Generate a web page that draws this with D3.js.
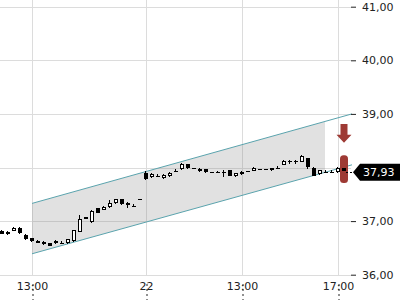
<!DOCTYPE html>
<html>
<head>
<meta charset="utf-8">
<script src="https://cdn.jsdelivr.net/npm/d3@7"></script>
<style>
  body { margin: 0; background: #fff; }
  svg { display: block; font-family: "DejaVu Sans", sans-serif; }
</style>
</head>
<body>
<div id="chart"></div>
<script>
// 15 minute bars, index 0 = first bar shown
var openP  = [36.82,36.75,36.82,36.88,36.74,36.68,36.63,36.61,36.59,36.62,36.59,36.59,36.62,36.80,37.07,36.98,37.24,37.21,37.26,37.33,
              37.41,37.34,37.29,37.41,37.89,37.82,37.84,37.80,37.84,37.93,37.97,38.06,37.99,37.93,37.97,37.92,37.91,37.91,37.95,37.84,
              37.92,37.93,37.94,37.98,37.97,37.95,38.00,38.05,38.13,38.13,38.11,38.17,38.00,37.87,37.91,37.92,37.91,37.99];
var highP  = [36.83,36.81,36.89,36.89,36.75,36.69,36.64,36.62,36.60,36.65,36.63,36.67,36.84,37.11,37.08,37.20,37.25,37.28,37.39,37.42,
              37.42,37.35,37.32,37.41,37.94,37.89,37.88,37.87,37.91,37.97,38.08,38.07,38.00,37.99,37.98,37.92,37.94,37.95,37.96,37.90,
              37.93,37.93,38.01,37.98,37.97,38.00,38.02,38.14,38.14,38.14,38.23,38.18,38.01,37.96,37.95,37.95,38.01,38.00];
var lowP   = [36.75,36.74,36.81,36.76,36.65,36.61,36.59,36.56,36.53,36.58,36.58,36.58,36.61,36.79,37.03,36.97,37.15,37.20,37.25,37.32,
              37.30,37.24,37.28,37.40,37.77,37.81,37.84,37.79,37.83,37.93,37.96,37.98,37.97,37.92,37.90,37.92,37.91,37.83,37.84,37.83,
              37.86,37.93,37.93,37.98,37.97,37.94,37.97,38.04,38.07,38.07,38.10,37.97,37.84,37.86,37.91,37.92,37.90,37.93];
var closeP = [36.76,36.80,36.88,36.77,36.66,36.62,36.60,36.57,36.54,36.59,36.59,36.66,36.83,37.04,37.04,37.19,37.16,37.27,37.33,37.41,
              37.31,37.30,37.29,37.41,37.78,37.88,37.84,37.86,37.90,37.93,38.07,37.99,37.97,37.98,37.91,37.92,37.91,37.91,37.84,37.89,
              37.87,37.93,38.00,37.98,37.97,37.99,37.98,38.13,38.11,38.11,38.21,38.01,37.85,37.95,37.91,37.92,38.00,37.93];

var xTickIdx = [5, 24, 40, 56];
var xTickLabels = ["13:00", "22", "13:00", "17:00"];
var yTicks = [36, 37, 39, 40, 41];
var yGrid = [36, 37, 38, 39, 40, 41];

// trend channel (bar index -> price)
var channelIdx = [5, 58.33];
var channelUpper = [37.33, 39.00];
var channelLower = [36.39, 38.05];
var channelFillEnd = 53.83;

// sell signal on the last bar
var signalIdx = 57;
var arrowTop = 38.81, arrowBottom = 38.46;
var barHigh = 38.23, barLow = 37.71;
var lastPrice = 37.93;

var width = 400, height = 300, plotRight = 351, plotBottom = 275;

var svg = d3.select("#chart").append("svg")
    .attr("width", width)
    .attr("height", height);

var x = d3.scaleLinear().domain([0, 57]).range([2, 344]);
var y = d3.scaleLinear().domain([36, 41]).range([274.7, 6.7]);

var locale = d3.formatLocale({decimal: ",", thousands: ".", grouping: [3], currency: ["", ""]});
var fmt = locale.format(".2f");

// grid
svg.append("g").selectAll("line")
    .data(yGrid).enter().append("line")
    .attr("x1", 0).attr("x2", plotRight)
    .attr("y1", function(d) { return Math.round(y(d)) + 0.5; })
    .attr("y2", function(d) { return Math.round(y(d)) + 0.5; })
    .attr("stroke", "#dcdcdc");

svg.append("g").selectAll("line")
    .data(xTickIdx).enter().append("line")
    .attr("x1", function(d) { return Math.round(x(d)) + 0.5; })
    .attr("x2", function(d) { return Math.round(x(d)) + 0.5; })
    .attr("y1", 0).attr("y2", plotBottom)
    .attr("stroke", "#dcdcdc");

// channel
var up = d3.scaleLinear().domain(channelIdx).range(channelUpper);
var lo = d3.scaleLinear().domain(channelIdx).range(channelLower);
var fillPts = [[channelIdx[0], up(channelIdx[0])], [channelFillEnd, up(channelFillEnd)],
               [channelFillEnd, lo(channelFillEnd)], [channelIdx[0], lo(channelIdx[0])]];
svg.append("path")
    .attr("d", d3.line().x(function(d) { return x(d[0]); }).y(function(d) { return y(d[1]); })(fillPts) + "Z")
    .attr("fill", "#808080")
    .attr("fill-opacity", 0.24);

[channelUpper, channelLower].forEach(function(c) {
    svg.append("line")
        .attr("x1", x(channelIdx[0])).attr("y1", y(c[0]))
        .attr("x2", x(channelIdx[1])).attr("y2", y(c[1]))
        .attr("stroke", "#5aa3ad")
        .attr("stroke-width", 1);
});

// signal marks
var sx = Math.round(x(signalIdx));
var aTop = y(arrowTop), aBot = y(arrowBottom), headY = aBot - 8;
svg.append("path")
    .attr("d", "M" + (sx - 3.5) + "," + aTop + "H" + (sx + 3.5) + "V" + headY + "H" + (sx + 7.5) +
               "L" + sx + "," + aBot + "L" + (sx - 7.5) + "," + headY + "H" + (sx - 3.5) + "Z")
    .attr("fill", "#9e3a34");

svg.append("rect")
    .attr("x", sx - 4).attr("width", 8)
    .attr("y", y(barHigh)).attr("height", y(barLow) - y(barHigh))
    .attr("rx", 3.5)
    .attr("fill", "#9e3a34");

// candles
var candles = svg.append("g").selectAll("g")
    .data(d3.range(openP.length)).enter().append("g");

candles.append("line")
    .attr("x1", function(i) { return Math.round(x(i)) - 0.5; })
    .attr("x2", function(i) { return Math.round(x(i)) - 0.5; })
    .attr("y1", function(i) { return Math.round(y(highP[i])); })
    .attr("y2", function(i) { return Math.round(y(lowP[i])); })
    .attr("stroke", "#000");

candles.append("rect")
    .each(function(i) {
        var cx = Math.round(x(i));
        var top = Math.round(y(Math.max(openP[i], closeP[i])));
        var bot = Math.round(y(Math.min(openP[i], closeP[i])));
        var r = d3.select(this);
        if (closeP[i] > openP[i]) {
            r.attr("x", cx - 1.5).attr("width", 3)
             .attr("y", top + 0.5).attr("height", Math.max(bot - top - 1, 1))
             .attr("fill", "#fff").attr("stroke", "#000");
        } else {
            r.attr("x", cx - 2).attr("width", 4)
             .attr("y", top).attr("height", Math.max(bot - top, 1))
             .attr("fill", "#000");
        }
    });

// y axis
var yAxis = svg.append("g")
    .attr("transform", "translate(" + plotRight + ",0)")
    .call(d3.axisRight(y).tickValues(yTicks).tickSize(5).tickPadding(6).tickFormat(fmt));
yAxis.select(".domain").remove();
yAxis.selectAll("text").attr("font-size", 11).attr("font-family", "DejaVu Sans").attr("fill", "#222");
yAxis.selectAll("line").attr("stroke", "#222");

// x axis
var xAxis = svg.append("g")
    .attr("transform", "translate(0," + plotBottom + ")")
    .call(d3.axisBottom(x).tickValues(xTickIdx).tickSize(0).tickPadding(7.5)
        .tickFormat(function(d, k) { return xTickLabels[k]; }));
xAxis.select(".domain").remove();
xAxis.selectAll("text").attr("font-size", 11).attr("font-family", "DejaVu Sans").attr("fill", "#222");
xAxis.selectAll(".tick").append("line")
    .attr("x1", 0.5).attr("x2", 0.5)
    .attr("y1", 9).attr("y2", 25)
    .attr("stroke", "#222")
    .attr("stroke-dasharray", "2,3");

// last price badge
var ly = y(lastPrice) + 1;
svg.append("line")
    .attr("x1", sx + 2).attr("x2", 354)
    .attr("y1", Math.round(ly) + 0.5).attr("y2", Math.round(ly) + 0.5)
    .attr("stroke", "#000")
    .attr("stroke-dasharray", "2,2");
svg.append("path")
    .attr("d", "M353," + ly + "L360," + (ly - 8.5) + "H400V" + (ly + 8.5) + "H360Z")
    .attr("fill", "#000");
svg.append("text")
    .attr("x", 363).attr("y", ly)
    .attr("dy", "0.36em")
    .attr("font-size", 11)
    .attr("fill", "#fff")
    .text(fmt(lastPrice));
</script>
</body>
</html>
